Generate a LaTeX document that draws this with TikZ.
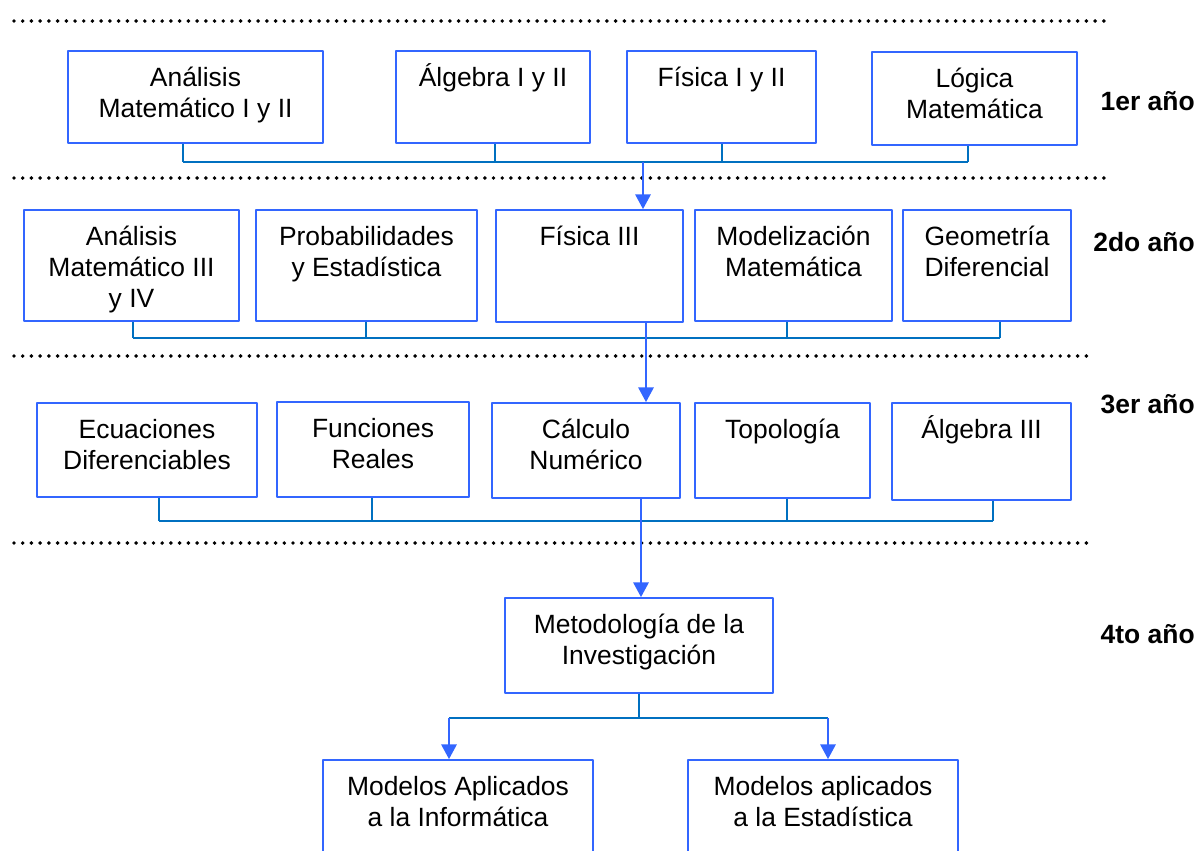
\documentclass[tikz,border=0pt]{standalone}
\usepackage{fontspec}
\setmainfont{Liberation Sans}
\usetikzlibrary{arrows.meta}
\definecolor{azulcaja}{HTML}{3366FF}
\definecolor{azullinea}{HTML}{0070C0}
\tikzset{
  caja/.style={draw=azulcaja,line width=1.3pt,rectangle,inner sep=0pt},
  texto/.style={anchor=north,align=center,inner sep=0pt},
  enlace/.style={draw=azullinea,line width=1.2pt},
  flecha/.style={draw=azulcaja,line width=1.3pt,-{Triangle[width=11pt,length=10.5pt]},fill=azulcaja},
  puntos/.style={line width=2.8pt,line cap=round,dash pattern=on 0pt off 6.2pt},
  anio/.style={anchor=east,inner sep=0pt,font=\fontsize{18.8}{22}\selectfont\bfseries}
}
\begin{document}
\begin{tikzpicture}[x=0.025cm,y=-0.025cm,font=\fontsize{18.8}{22}\selectfont,line join=round]
\useasboundingbox (0,0) rectangle (1200,850);
\clip (0,0) rectangle (1200,850);
% separadores
\draw[puntos] (14,21) -- (1108,21) (14,178) -- (1108,178) (14,356) -- (1092,356) (14,543) -- (1092,543);
% materias
\foreach \n/\xa/\ya/\xb/\yb/\t in {
  a1/68/51/323/143/Análisis\\Matemático I y II,
  a2/396/51/590/143/Álgebra I y II,
  a3/627/51/816/143/Física I y II,
  a4/872/52/1077/145/Lógica\\Matemática,
  b1/24/210/239/321/Análisis\\Matemático III\\y IV,
  b2/256/210/477/321/Probabilidades\\y Estadística,
  b3/496/210/683/322/Física III,
  b4/695/210/892/321/Modelización\\Matemática,
  b5/903/210/1071/321/Geometría\\Diferencial,
  c1/37/403/257/497/Ecuaciones\\Diferenciables,
  c2/277/402/469/497/Funciones\\Reales,
  c3/492/403/680/498/Cálculo\\Numérico,
  c4/695/403/870/498/Topología,
  c5/892/403/1071/500/Álgebra III,
  d1/505/598/773/693/Metodología de la\\Investigación,
  e1/323/760/593/880/Modelos Aplicados\\a la Informática,
  e2/688/760/958/880/Modelos aplicados\\a la Estadística}
{
  \node[caja,minimum width={(\xb-\xa)*0.025cm},minimum height={(\yb-\ya)*0.025cm}] (\n) at ({(\xa+\xb)/2},{(\ya+\yb)/2}) {};
  \node[texto] (\n-t) at ([yshift=-7.6pt]\n.north) {\rule{0pt}{18pt}\t};
}
% años
\node[anio] (y1) at (1195,101) {1er año};
\node[anio] (y2) at (1195,242) {2do año};
\node[anio] (y3) at (1195,404) {3er año};
\node[anio] (y4) at (1195,634) {4to año};
% uniones
\path
(183,162) coordinate (ea1) (495,162) coordinate (ea2) (722,162) coordinate (ea3) (968,162) coordinate (ea4) (643,162) coordinate (fa)
(133,338) coordinate (eb1) (366,338) coordinate (eb2) (787,338) coordinate (eb4) (1000,338) coordinate (eb5) (646,338) coordinate (fb)
(159,521) coordinate (ec1) (372,521) coordinate (ec2) (787,521) coordinate (ec4) (993,521) coordinate (ec5) (641,521) coordinate (fc)
(449,718) coordinate (ed1) (828,718) coordinate (ed2) (639,718) coordinate (fd)
;
\draw[enlace] (ea1) -- (ea4) (eb1) -- (eb5) (ec1) -- (ec5) (ed1) -- (ed2);
\foreach \n in {a1,a2,a3,a4,b1,b2,b4,b5,c1,c2,c4,c5}
  \draw[enlace] (e\n |- \n.south) -- (e\n);
\draw[enlace] (fd |- d1.south) -- (fd);
\draw[flecha] (fa) -- (fa |- b3.north);
\draw[flecha] (fb |- b3.south) -- (fb |- c3.north);
\draw[flecha] (fc |- c3.south) -- (fc |- d1.north);
\draw[flecha] (ed1) -- (ed1 |- e1.north);
\draw[flecha] (ed2) -- (ed2 |- e2.north);
\end{tikzpicture}
\end{document}
